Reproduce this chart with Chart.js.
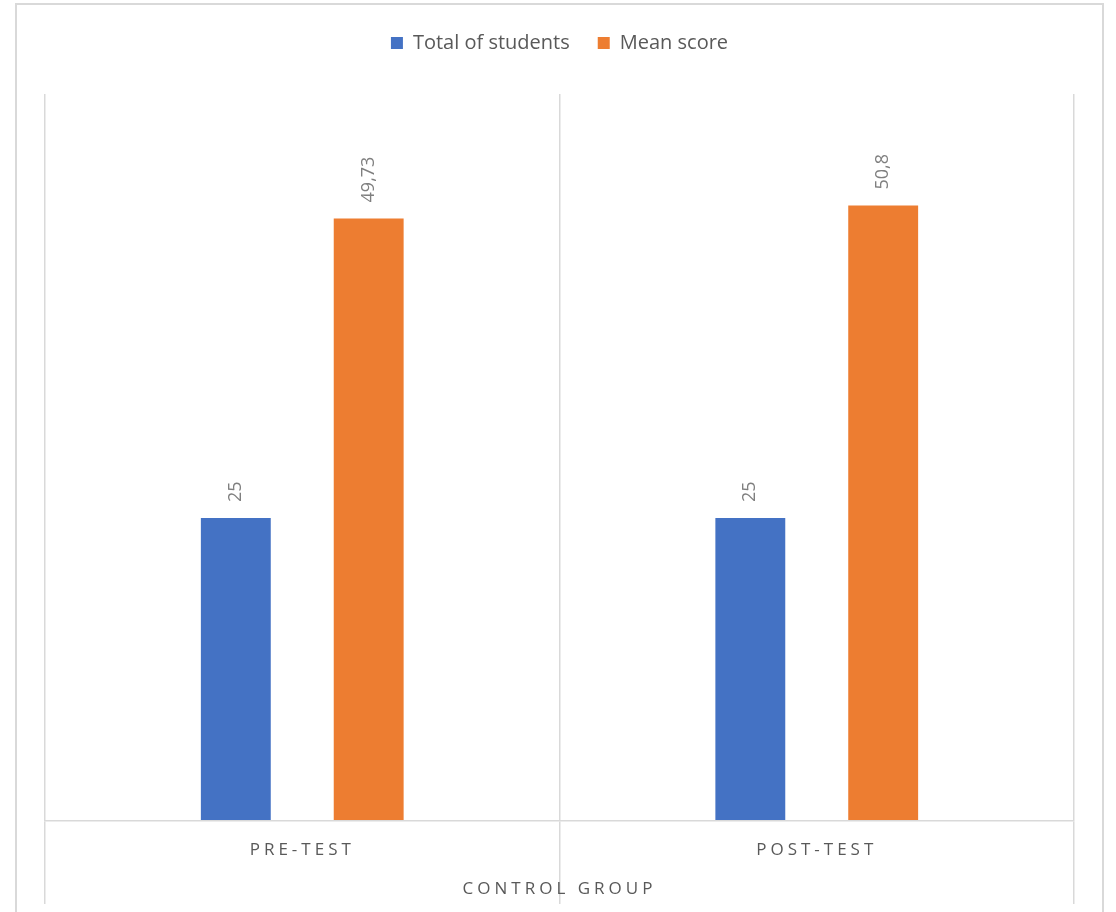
<!DOCTYPE html>
<html>
<head>
<meta charset="utf-8">
<script src="https://cdn.jsdelivr.net/npm/chart.js@4.4.0/dist/chart.umd.min.js"></script>
<style>
    html, body { margin: 0; padding: 0; background: #fff; overflow: hidden; }
    #frame { position: absolute; left: 15px; top: 3px; width: 1089px; height: 1000px; border: 2px solid #d9d9d9; box-sizing: border-box; }
    #chart { position: absolute; left: 0; top: 0; }
</style>
</head>
<body>
<div id="frame"></div>
<canvas id="chart" width="1116" height="912"></canvas>
<script>
// data
const categories = ["PRE-TEST", "POST-TEST"];
const groupLabel = "CONTROL GROUP";
const seriesNames = ["Total of students", "Mean score"];
const totalStudents = [25, 25];
const meanScore = [49.73, 50.8];

const FONT = "Open Sans";

// value labels above bars, rotated, with comma decimals
const barLabels = {
    id: "barLabels",
    afterDatasetsDraw(chart) {
        const ctx = chart.ctx;
        ctx.save();
        ctx.letterSpacing = "0px";
        ctx.font = `18px "${FONT}"`;
        ctx.fillStyle = "#7f7f7f";
        ctx.textAlign = "left";
        ctx.textBaseline = "middle";
        chart.data.datasets.forEach((ds, i) => {
            chart.getDatasetMeta(i).data.forEach((bar, j) => {
                ctx.save();
                ctx.translate(bar.x, bar.y - 16);
                ctx.rotate(-Math.PI / 2);
                ctx.fillText(String(ds.data[j]).replace(".", ","), 0, 0);
                ctx.restore();
            });
        });
        ctx.restore();
        // the x axis (z = 1) is drawn right after this: spaced caps
        ctx.letterSpacing = "4px";
    },
    afterDraw(chart) {
        chart.ctx.letterSpacing = "0px";
    }
};

// legend takes the whole band above the plot
const legendBand = {
    id: "legendBand",
    beforeLayout(chart) {
        const lg = chart.legend;
        if (lg && !lg._band) {
            const fit = lg.fit.bind(lg);
            lg.fit = function () { fit(); this.height = 89; };
            lg._band = true;
        }
    }
};

new Chart(document.getElementById("chart"), {
    type: "bar",
    data: {
        labels: categories,
        datasets: [
            { label: seriesNames[0], data: totalStudents, backgroundColor: "#4472C4" },
            { label: seriesNames[1], data: meanScore, backgroundColor: "#ED7D31" }
        ]
    },
    options: {
        responsive: false,
        animation: false,
        categoryPercentage: 0.5165,
        barPercentage: 0.526,
        layout: { padding: { top: 5, left: 45, right: 42, bottom: 0 } },
        plugins: {
            tooltip: { enabled: false },
            legend: {
                position: "top",
                labels: {
                    boxWidth: 12,
                    boxHeight: 12,
                    padding: 28,
                    color: "#595959",
                    font: { family: FONT, size: 20 }
                }
            }
        },
        scales: {
            y: { display: false, min: 0, max: 60 },
            x: {
                grid: { color: "#d9d9d9", lineWidth: 1.5, tickLength: 83, z: 1 },
                border: { color: "#d9d9d9", width: 1.5, z: 1 },
                ticks: { color: "#595959", font: { family: FONT, size: 17 }, padding: -64, z: 1 },
                title: {
                    display: true,
                    text: groupLabel,
                    color: "#595959",
                    font: { family: FONT, size: 17 },
                    padding: { top: 0, bottom: 13 }
                },
                afterFit(scale) { scale.height = 91; }
            }
        }
    },
    plugins: [barLabels, legendBand]
});
</script>
</body>
</html>
